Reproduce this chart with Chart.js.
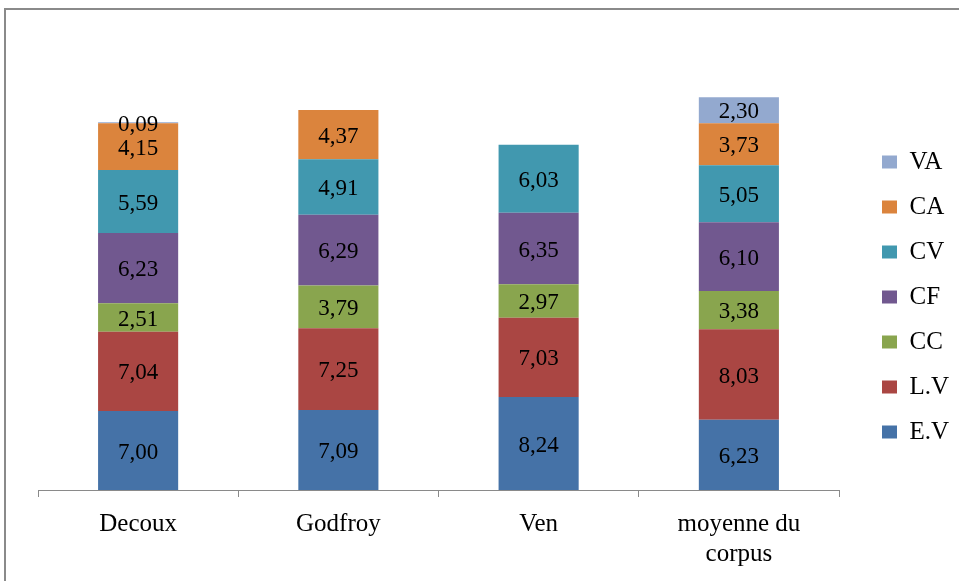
<!DOCTYPE html>
<html>

<head>
    <title>Stacked chart</title>
    <style>
        body { margin: 0; background: #fff; }
        #wrap { position: relative; width: 959px; height: 581px; overflow: hidden; }
        #frame { position: absolute; left: 4px; top: 8px; width: 1000px; height: 620px; border: 2px solid #8a8a8a; box-sizing: border-box; }
        canvas { position: absolute; left: 0; top: 0; }
    </style>
</head>

<body>
    <div id="wrap">
        <div id="frame"></div>
        <canvas id="myChart" width="959" height="581"></canvas>
    </div>
    <script src="https://cdn.jsdelivr.net/npm/chart.js@4"></script>
    <script type="text/javascript">
        const categories = ['Decoux', 'Godfroy', 'Ven', ['moyenne du', 'corpus']];
        const EV = [7.00, 7.09, 8.24, 6.23];
        const LV = [7.04, 7.25, 7.03, 8.03];
        const CC = [2.51, 3.79, 2.97, 3.38];
        const CF = [6.23, 6.29, 6.35, 6.10];
        const CV = [5.59, 4.91, 6.03, 5.05];
        const CA = [4.15, 4.37, null, 3.73];
        const VA = [0.09, null, null, 2.30];

        const serif = 'Liberation Serif, Times New Roman, serif';

        // draws the value in the middle of each segment
        const valueLabels = {
            id: 'valueLabels',
            afterDatasetsDraw(chart) {
                const ctx = chart.ctx;
                ctx.save();
                ctx.font = '23px ' + serif;
                ctx.fillStyle = '#000';
                ctx.textAlign = 'center';
                ctx.textBaseline = 'middle';
                chart.data.datasets.forEach((ds, i) => {
                    chart.getDatasetMeta(i).data.forEach((bar, j) => {
                        const v = ds.data[j];
                        if (v === null || v === undefined) return;
                        ctx.fillText(v.toFixed(2).replace('.', ','), bar.x, (bar.y + bar.base) / 2 + 2);
                    });
                });
                ctx.restore();
            }
        };

        function series(label, data, color) {
            return { label: label, data: data, backgroundColor: color, borderWidth: 0, barPercentage: 0.4, categoryPercentage: 1 };
        }

        var ctx = document.getElementById('myChart').getContext('2d');
        var chart = new Chart(ctx, {
            type: 'bar',
            data: {
                labels: categories,
                datasets: [
                    series('E.V', EV, '#4572A7'),
                    series('L.V', LV, '#AA4643'),
                    series('CC', CC, '#89A54E'),
                    series('CF', CF, '#71588F'),
                    series('CV', CV, '#4198AF'),
                    series('CA', CA, '#DB843D'),
                    series('VA', VA, '#93A9CF')
                ]
            },
            plugins: [valueLabels],
            options: {
                responsive: false,
                animation: false,
                layout: { padding: { top: 13, left: 38, right: 0, bottom: 0 } },
                plugins: {
                    tooltip: { enabled: false },
                    legend: {
                        position: 'right',
                        reverse: true,
                        maxWidth: 97,
                        labels: {
                            boxWidth: 15,
                            boxHeight: 13,
                            padding: 20,
                            color: '#000',
                            font: { family: serif, size: 25 }
                        }
                    }
                },
                scales: {
                    x: {
                        stacked: true,
                        grid: { drawOnChartArea: false, tickLength: 7, color: '#8a8a8a' },
                        border: { color: '#8a8a8a' },
                        ticks: {
                            color: '#000',
                            padding: 12,
                            maxRotation: 0,
                            autoSkip: false,
                            font: { family: serif, size: 25, lineHeight: 1.2 }
                        }
                    },
                    y: {
                        stacked: true,
                        position: 'right',
                        min: 0,
                        max: 42.3,
                        grid: { display: false },
                        border: { display: false },
                        ticks: { display: false },
                        afterFit(scale) { scale.width = 23; }
                    }
                }
            }
        });
    </script>
</body>

</html>
